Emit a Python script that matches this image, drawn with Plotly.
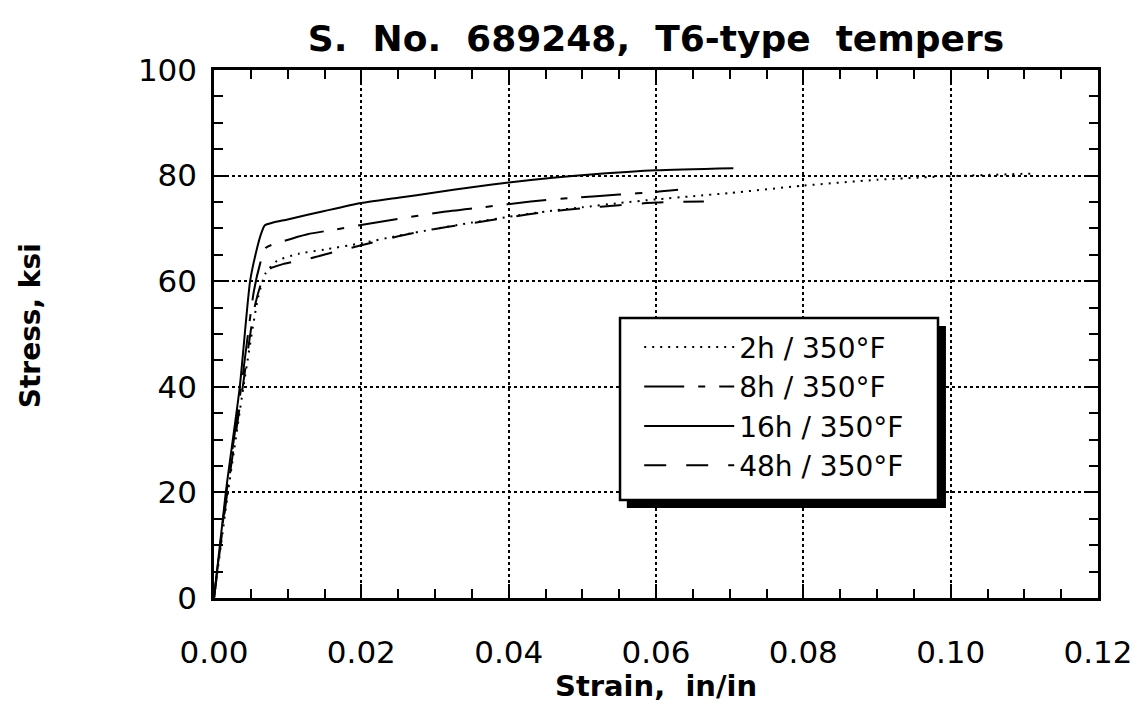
import plotly.graph_objects as go

# ---- data ----
strain_2h = [0, 0.0019, 0.0040, 0.0060, 0.0070, 0.0085, 0.0115, 0.015, 0.020, 0.025, 0.030, 0.035,
             0.040, 0.045, 0.050, 0.055, 0.060, 0.065, 0.070, 0.080, 0.090, 0.100, 0.1115]
stress_2h = [0, 20, 40, 57, 61.5, 63.8, 65.2, 66.0, 67.2, 68.6, 69.9, 71.1,
             72.2, 73.2, 74.0, 74.8, 75.5, 76.1, 76.7, 78.1, 79.2, 79.9, 80.4]

strain_8h = [0, 0.0017, 0.0037, 0.0054, 0.0062, 0.0070, 0.0095, 0.0127, 0.0165, 0.0245, 0.031,
             0.0365, 0.043, 0.0488, 0.055, 0.060, 0.063]
stress_8h = [0, 20, 40, 58, 63, 66.3, 67.6, 68.9, 69.8, 71.7, 73.1,
             74.0, 75.1, 75.8, 76.4, 76.9, 77.3]

strain_16h = [0, 0.0016, 0.0035, 0.0049, 0.0058, 0.0064, 0.0069, 0.008, 0.010, 0.015, 0.020,
              0.025, 0.030, 0.035, 0.040, 0.046, 0.052, 0.060, 0.0705]
stress_16h = [0, 20, 40, 60, 66, 69, 70.6, 71.1, 71.7, 73.3, 74.8,
              75.8, 76.8, 77.8, 78.7, 79.6, 80.3, 81.0, 81.4]

strain_48h = [0, 0.0018, 0.0039, 0.0055, 0.0065, 0.0075, 0.0095, 0.0130, 0.0165, 0.020, 0.025,
              0.030, 0.035, 0.040, 0.045, 0.050, 0.055, 0.060, 0.0665]
stress_48h = [0, 20, 40, 55, 60, 62.3, 63.3, 64.3, 65.6, 66.8, 68.5,
              69.9, 71.0, 72.1, 73.1, 73.8, 74.4, 74.9, 75.1]

series_names = ["2h / 350°F", "8h / 350°F", "16h / 350°F", "48h / 350°F"]
x_ticks = [0, 0.02, 0.04, 0.06, 0.08, 0.10, 0.12]
y_ticks = [0, 20, 40, 60, 80, 100]

title_text = "S.  No.  689248,  T6-type  tempers"
x_title = "Strain,  in/in"
y_title = "Stress, ksi"

# ---- styles ----
dashes = ["2px,6px", "40px,14px,7px,14px", "solid", "22px,20px"]

fig = go.Figure()
for name, xs, ys, dsh in zip(series_names,
                             [strain_2h, strain_8h, strain_16h, strain_48h],
                             [stress_2h, stress_8h, stress_16h, stress_48h],
                             dashes):
    fig.add_trace(go.Scatter(x=xs, y=ys, mode="lines", name=name,
                             line=dict(color="black", width=2, dash=dsh, shape="spline", smoothing=0.6)))

axis_common = dict(
    showline=True, linecolor="black", linewidth=2.5, mirror="ticks",
    ticks="inside", ticklen=14, tickwidth=2, tickcolor="black",
    showgrid=True, gridcolor="black", gridwidth=1.5, griddash="dot",
    zeroline=False, automargin=False,
    tickfont=dict(family="DejaVu Sans", size=31, color="black"),
)

fig.update_xaxes(**axis_common, range=[0, 0.12], tickvals=x_ticks, tickformat=".2f",
                 minor=dict(ticks="inside", ticklen=9, tickwidth=1.5, tickcolor="black", dtick=0.005, showgrid=False),
                 ticklabelstandoff=25)
fig.update_yaxes(**axis_common, range=[0, 100], tickvals=y_ticks,
                 minor=dict(ticks="inside", ticklen=9, tickwidth=1.5, tickcolor="black", dtick=5, showgrid=False),
                 ticklabelstandoff=8)

# axis titles
fig.add_annotation(text=x_title, xref="paper", yref="paper", x=0.5, y=-0.167,
                   xanchor="center", yanchor="middle", showarrow=False,
                   font=dict(family="DejaVu Sans", size=29, color="black", weight="bold"))
fig.add_annotation(text=y_title, xref="paper", yref="paper", x=-0.208, y=0.515, textangle=-90,
                   xanchor="center", yanchor="middle", showarrow=False,
                   font=dict(family="DejaVu Sans", size=28, color="black", weight="bold"))

# legend box with drop shadow
fig.add_shape(type="rect", xref="paper", yref="paper", x0=0.467, x1=0.828, y0=0.1705, y1=0.515,
              fillcolor="black", line=dict(width=0), layer="above")
fig.add_shape(type="rect", xref="paper", yref="paper", x0=0.4593, x1=0.819, y0=0.1856, y1=0.5303,
              fillcolor="white", line=dict(color="black", width=2.5), layer="above")

# page body has an 8px margin, so the figure is drawn 8px smaller and offset accordingly
fig.update_layout(
    width=1137, height=702,
    margin=dict(l=206, r=47, t=62, b=112),
    paper_bgcolor="white", plot_bgcolor="white",
    title=dict(text=title_text, x=0.5, xref="paper", xanchor="center", y=0.956, yanchor="middle",
               font=dict(family="DejaVu Sans", size=36, color="black", weight="bold")),
    showlegend=True,
    legend=dict(x=0.481, xanchor="left", y=0.522, yanchor="top",
                bgcolor="rgba(0,0,0,0)", borderwidth=0,
                font=dict(family="DejaVu Sans", size=28, color="black"),
                itemwidth=90, traceorder="normal"),
)

fig.write_html("out.html")
